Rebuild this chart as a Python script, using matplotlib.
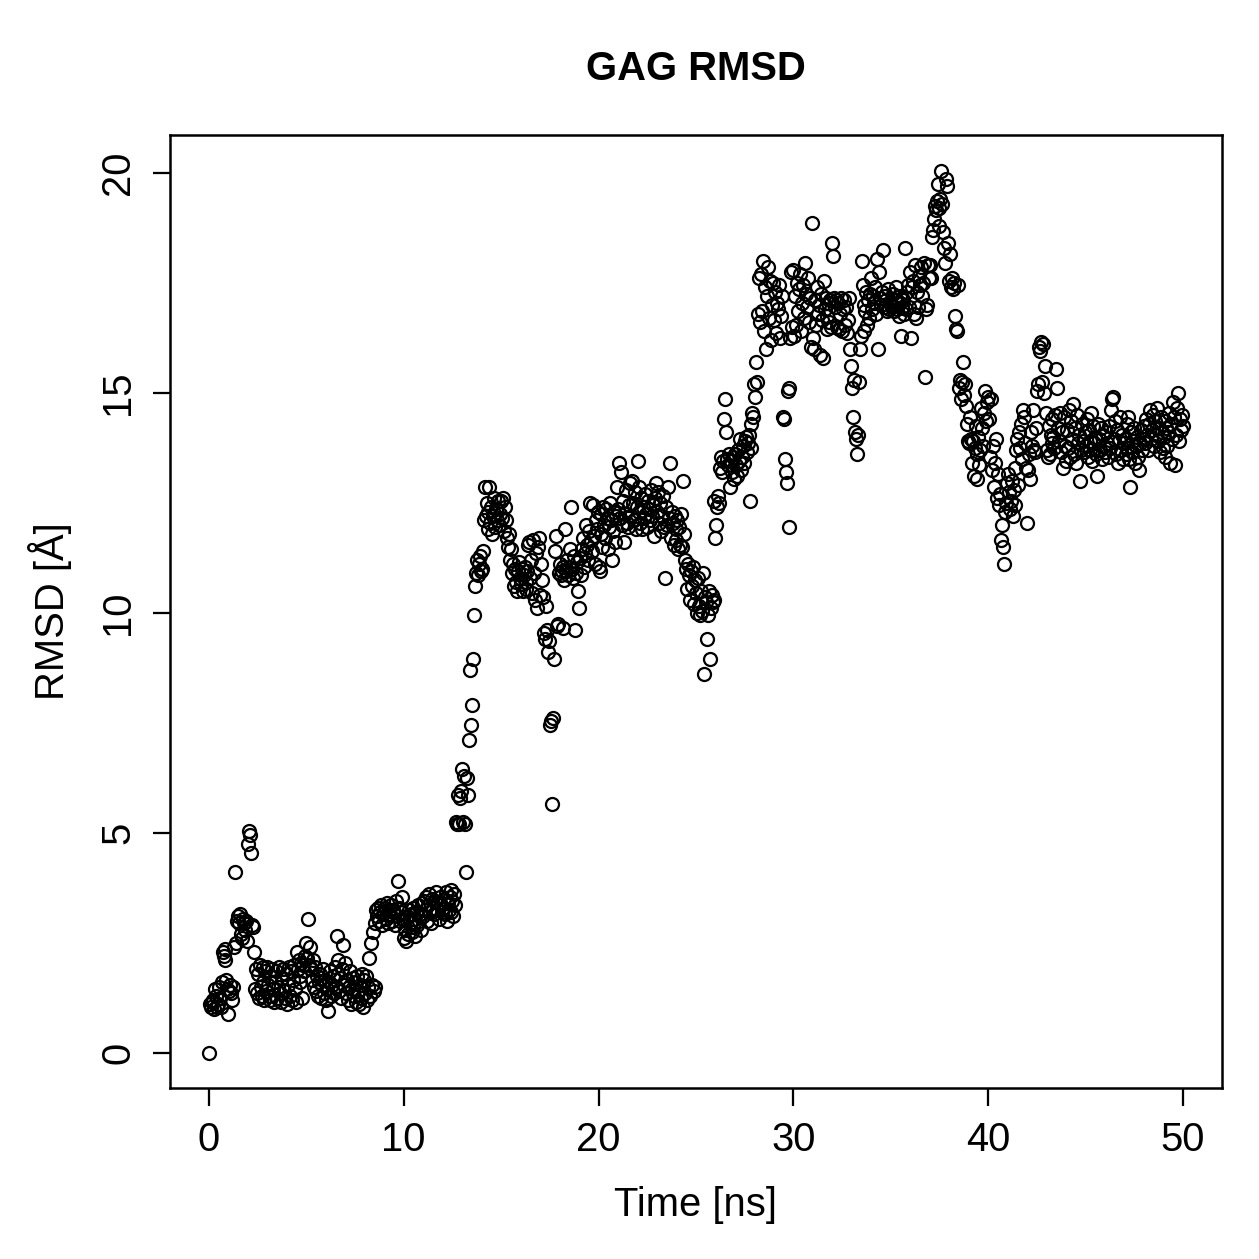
import numpy as np
import matplotlib
matplotlib.use("Agg")
import matplotlib.pyplot as plt

plt.rcParams["font.family"] = ["Liberation Sans", "DejaVu Sans"]

# RMSD [A], one row per ns (20 frames, 0.05 ns apart)
rmsd_rows = [
    [0.00, 1.10, 1.05, 1.15, 1.20, 1.00, 1.45, 1.30, 1.05, 1.10, 1.50, 1.25, 1.05, 1.60, 2.30, 2.20, 2.35, 2.10, 1.65, 1.45],
    [0.88, 1.40, 1.55, 1.35, 1.20, 1.50, 2.40, 4.10, 2.50, 3.00, 3.10, 2.95, 3.15, 2.70, 2.60, 3.05, 2.95, 2.80, 3.00, 2.55],
    [4.75, 5.05, 4.95, 4.55, 2.90, 2.85, 2.30, 1.45, 1.90, 1.35, 1.80, 1.25, 2.00, 1.50, 1.30, 1.95, 1.60, 1.20, 1.85, 1.40],
    [1.95, 1.55, 1.30, 1.20, 1.75, 1.90, 1.45, 1.15, 1.60, 1.85, 1.25, 1.50, 1.95, 1.35, 1.15, 1.70, 1.90, 1.40, 1.25, 1.80],
    [1.10, 1.55, 1.95, 1.30, 1.85, 1.20, 1.65, 2.00, 1.45, 1.15, 2.30, 1.90, 2.10, 1.60, 1.75, 2.05, 1.25, 2.00, 1.85, 2.20],
    [2.50, 2.15, 3.05, 2.00, 2.40, 1.90, 1.65, 2.10, 1.50, 1.95, 1.40, 1.75, 1.30, 1.60, 1.80, 1.25, 1.55, 1.90, 1.35, 1.65],
    [1.20, 1.45, 0.95, 1.60, 1.85, 1.30, 1.55, 1.75, 1.35, 1.95, 1.50, 2.65, 1.80, 2.10, 1.40, 1.70, 1.25, 1.90, 2.45, 1.55],
    [2.05, 1.35, 1.65, 1.20, 1.50, 1.85, 1.10, 1.45, 1.70, 1.30, 1.60, 1.15, 1.75, 1.40, 1.10, 1.55, 1.25, 1.80, 1.05, 1.65],
    [1.35, 1.75, 1.20, 1.50, 2.15, 1.30, 2.50, 1.55, 2.75, 1.40, 1.50, 2.95, 3.25, 3.10, 3.30, 3.00, 3.20, 3.35, 2.90, 3.15],
    [3.20, 3.30, 3.05, 3.40, 2.95, 3.25, 3.15, 3.35, 3.00, 3.25, 3.20, 2.90, 3.45, 3.10, 3.90, 3.30, 3.00, 3.20, 3.55, 3.05],
    [2.60, 2.80, 2.55, 3.10, 2.70, 3.25, 2.95, 3.15, 2.75, 3.30, 2.85, 3.05, 2.65, 3.20, 2.90, 3.35, 3.00, 3.15, 2.80, 3.40],
    [3.10, 3.45, 3.25, 3.55, 3.00, 3.35, 3.60, 3.20, 2.95, 3.50, 3.30, 3.15, 3.45, 3.65, 3.25, 3.40, 3.05, 3.55, 3.35, 3.20],
    [3.30, 3.50, 3.15, 3.65, 3.00, 3.40, 3.25, 3.55, 3.70, 3.20, 3.45, 3.10, 3.60, 3.35, 5.25, 5.20, 5.85, 5.20, 5.80, 5.95],
    [6.45, 5.25, 6.30, 5.20, 4.10, 6.25, 5.85, 7.10, 8.70, 7.45, 7.90, 8.95, 9.95, 10.60, 10.90, 11.20, 10.85, 11.10, 11.30, 10.95],
    [11.00, 11.40, 12.10, 12.85, 12.20, 12.50, 11.90, 12.30, 12.85, 12.05, 12.40, 11.80, 12.20, 12.60, 11.95, 12.35, 12.10, 12.55, 12.00, 12.25],
    [12.55, 12.15, 12.60, 11.85, 12.40, 12.10, 11.70, 11.50, 11.80, 11.20, 11.45, 10.90, 11.10, 10.60, 11.00, 10.70, 10.50, 10.95, 11.15, 10.80],
    [10.65, 11.00, 10.50, 10.85, 11.05, 10.70, 10.55, 10.95, 11.55, 11.60, 10.80, 11.20, 10.45, 11.65, 10.90, 10.30, 11.35, 10.10, 11.50, 11.70],
    [10.40, 11.10, 10.75, 10.35, 9.55, 9.40, 10.15, 9.60, 9.10, 9.35, 7.45, 7.55, 5.65, 7.60, 8.95, 11.40, 11.75, 9.70, 9.75, 10.90],
    [11.10, 10.85, 10.95, 9.65, 11.05, 10.75, 11.90, 10.95, 11.20, 10.85, 11.05, 11.45, 12.40, 11.00, 10.80, 11.30, 9.60, 10.90, 11.15, 10.50],
    [10.10, 11.25, 10.85, 11.45, 11.70, 11.05, 11.35, 12.00, 11.55, 11.20, 11.85, 12.50, 11.65, 11.40, 12.45, 11.75, 11.10, 12.10, 11.90, 12.30],
    [11.05, 10.95, 11.80, 12.25, 11.50, 12.40, 12.00, 11.70, 12.35, 12.15, 11.45, 11.95, 12.50, 12.10, 11.20, 11.85, 12.30, 11.60, 12.20, 12.85],
    [12.35, 13.40, 12.15, 13.20, 12.00, 12.55, 11.60, 12.25, 12.80, 12.05, 11.95, 12.45, 12.95, 12.20, 13.00, 12.50, 12.10, 12.75, 11.90, 12.40],
    [13.45, 12.30, 12.85, 12.05, 12.60, 11.90, 12.40, 12.15, 12.70, 12.25, 11.95, 12.55, 12.35, 12.10, 12.80, 12.20, 12.45, 11.75, 12.60, 12.95],
    [12.30, 12.75, 12.05, 12.50, 11.85, 12.20, 12.65, 11.95, 10.80, 12.40, 12.00, 12.85, 12.15, 13.40, 11.70, 12.30, 12.05, 11.55, 12.20, 11.90],
    [11.65, 12.10, 11.45, 11.95, 11.55, 12.25, 11.50, 13.00, 11.80, 11.20, 11.00, 10.55, 11.10, 10.85, 10.30, 10.95, 10.60, 11.05, 10.20, 10.75],
    [10.45, 10.00, 10.80, 10.15, 9.95, 10.50, 10.05, 10.90, 8.60, 10.35, 10.25, 9.40, 9.95, 10.50, 8.95, 10.10, 10.40, 10.25, 10.30, 12.55],
    [11.70, 12.00, 12.40, 12.65, 12.50, 13.30, 13.55, 13.20, 13.45, 14.40, 14.85, 14.10, 13.50, 13.35, 13.60, 12.85, 13.45, 13.20, 13.55, 13.05],
    [13.60, 13.35, 13.10, 13.70, 13.45, 13.95, 13.25, 13.55, 13.80, 13.40, 13.90, 14.00, 13.65, 13.85, 14.05, 12.55, 13.75, 14.30, 14.55, 14.45],
    [15.20, 14.90, 15.70, 15.25, 16.80, 17.60, 16.60, 17.70, 16.85, 18.00, 16.40, 17.40, 16.00, 17.20, 17.85, 16.70, 17.55, 16.20, 17.00, 17.50],
    [16.65, 17.30, 16.35, 17.05, 16.90, 17.45, 16.25, 16.75, 17.20, 14.45, 14.40, 13.50, 13.20, 12.95, 15.05, 11.95, 15.10, 16.25, 17.75, 16.50],
    [17.80, 16.30, 17.20, 16.55, 17.50, 16.85, 17.35, 17.70, 16.40, 17.05, 17.45, 16.70, 17.95, 17.25, 16.95, 17.60, 16.60, 17.15, 16.05, 18.85],
    [16.25, 16.00, 17.10, 16.55, 17.40, 16.80, 17.00, 15.85, 17.25, 16.65, 15.80, 17.55, 16.90, 17.15, 16.45, 16.75, 17.05, 16.60, 17.10, 16.50],
    [18.40, 18.10, 17.15, 16.95, 17.10, 16.50, 17.05, 16.45, 16.80, 17.15, 16.40, 16.90, 17.10, 16.55, 16.95, 16.35, 16.65, 17.15, 16.00, 15.60],
    [15.10, 14.45, 15.30, 14.10, 13.95, 13.60, 14.05, 15.25, 16.00, 16.30, 18.00, 17.45, 16.40, 17.00, 16.85, 17.30, 16.55, 17.10, 16.70, 17.25],
    [17.60, 16.90, 17.20, 17.05, 17.40, 16.80, 18.05, 16.00, 17.75, 17.15, 17.00, 17.30, 18.25, 16.95, 17.20, 17.10, 16.85, 17.35, 16.90, 17.05],
    [17.00, 16.95, 17.25, 16.85, 17.10, 17.40, 16.90, 17.05, 16.75, 17.20, 16.30, 17.15, 16.95, 17.10, 16.80, 18.30, 16.90, 17.30, 17.45, 16.95],
    [17.75, 16.25, 17.40, 17.55, 16.80, 17.90, 16.70, 17.30, 16.95, 17.65, 17.45, 17.85, 17.20, 17.50, 17.95, 15.35, 16.90, 17.00, 17.90, 17.60],
    [17.90, 17.60, 18.55, 18.70, 18.95, 19.25, 19.15, 19.35, 19.75, 19.20, 18.80, 19.40, 20.05, 19.30, 18.65, 18.30, 17.95, 19.85, 19.70, 18.40],
    [17.55, 18.15, 17.40, 17.60, 17.35, 17.50, 16.75, 16.45, 16.40, 17.45, 15.10, 15.30, 14.85, 15.25, 15.70, 14.95, 15.20, 14.70, 14.30, 13.90],
    [13.85, 14.45, 13.95, 13.40, 13.90, 13.10, 13.75, 14.25, 13.05, 13.60, 14.00, 13.35, 13.70, 14.65, 14.20, 13.80, 14.55, 15.05, 14.35, 14.80],
    [14.90, 14.40, 13.55, 14.85, 13.25, 13.80, 12.85, 13.40, 13.95, 12.60, 13.15, 12.45, 12.70, 11.65, 12.00, 11.50, 11.10, 12.30, 12.50, 12.95],
    [13.15, 12.75, 12.35, 12.55, 13.00, 12.20, 12.80, 13.30, 12.45, 13.70, 13.95, 12.90, 14.10, 13.75, 14.30, 13.50, 14.60, 14.45, 13.85, 13.30],
    [12.05, 13.25, 13.60, 13.05, 14.10, 13.80, 14.60, 13.70, 13.65, 14.20, 15.05, 15.20, 16.05, 15.95, 16.15, 15.25, 16.10, 15.00, 15.60, 14.55],
    [13.70, 13.55, 14.25, 13.60, 14.05, 13.85, 14.40, 14.00, 13.75, 14.50, 15.55, 15.10, 14.20, 13.90, 14.55, 13.65, 14.10, 13.30, 14.45, 13.80],
    [13.45, 14.15, 13.75, 14.60, 13.55, 14.35, 13.95, 14.75, 13.60, 14.20, 13.40, 14.50, 13.85, 14.05, 13.00, 13.70, 14.30, 13.90, 13.65, 14.10],
    [13.80, 14.40, 13.55, 14.15, 13.90, 13.70, 14.55, 13.45, 14.25, 13.85, 14.00, 13.60, 13.10, 14.30, 13.95, 13.70, 14.20, 13.50, 14.05, 13.80],
    [13.65, 14.10, 13.85, 13.55, 14.25, 13.75, 14.60, 14.85, 14.90, 13.95, 14.35, 13.60, 14.15, 13.40, 13.90, 14.45, 13.70, 14.05, 13.50, 13.85],
    [13.95, 13.60, 14.30, 13.75, 14.45, 13.50, 12.85, 14.10, 13.65, 13.90, 14.20, 13.40, 13.80, 14.00, 13.55, 13.25, 13.85, 14.15, 13.70, 13.95],
    [14.25, 13.85, 14.40, 14.05, 13.70, 14.30, 14.60, 13.95, 14.15, 14.50, 13.80, 14.35, 14.05, 14.65, 13.90, 14.20, 13.65, 14.45, 14.10, 13.75],
    [14.00, 14.35, 13.55, 14.20, 13.80, 14.10, 14.55, 13.40, 14.30, 13.95, 14.80, 14.45, 13.35, 14.05, 14.65, 15.00, 13.90, 14.40, 14.15, 14.50],
    [14.25],
]

frame_step_ns = 0.05
x_ticks = [0, 10, 20, 30, 40, 50]
y_ticks = [0, 5, 10, 15, 20]

rmsd = np.array([v for row in rmsd_rows for v in row])
time_ns = np.arange(len(rmsd)) * frame_step_ns

fig = plt.figure(figsize=(1259 / 180, 1259 / 180), dpi=180)
ax = fig.add_axes([0.135, 0.1358, 0.8356, 0.757])

ax.plot(time_ns, rmsd, linestyle="none", marker="o", markersize=5.2,
        markerfacecolor="none", markeredgecolor="black", markeredgewidth=0.9)

# R-like 4% padding
ax.set_xlim(-2, 52)
ax.set_ylim(-0.80, 20.86)
ax.set_xticks(x_ticks)
ax.set_yticks(y_ticks)
ax.set_yticklabels([str(v) for v in y_ticks], rotation=90, va="center")
ax.tick_params(direction="out", length=7, width=0.9, labelsize=16, pad=6)

for s in ax.spines.values():
    s.set_linewidth(1.0)

ax.set_title("GAG RMSD", fontsize=16, fontweight="bold", pad=22)
ax.set_xlabel("Time [ns]", fontsize=16, labelpad=11)
ax.set_ylabel("RMSD [Å]", fontsize=16, labelpad=11)

fig.savefig("out.png", dpi=180)
